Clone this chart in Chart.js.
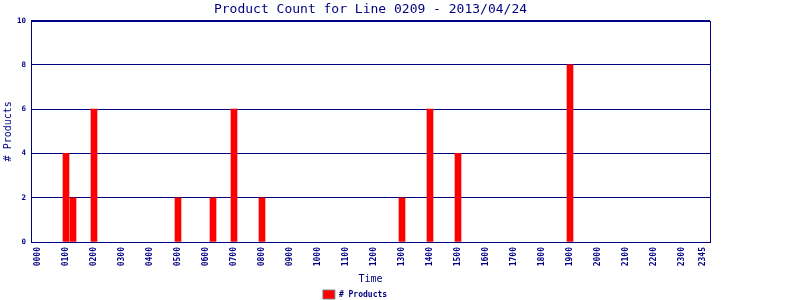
<!DOCTYPE html>
<html>
<head>
<meta charset="utf-8">
<script src="https://cdn.jsdelivr.net/npm/chart.js@4.4.1/dist/chart.umd.min.js"></script>
<style>
  html, body { margin: 0; padding: 0; background: #fff; }
  #wrap { width: 800px; height: 300px; }
</style>
</head>
<body>
<div id="wrap"><canvas id="myChart" width="800" height="300"></canvas></div>
<script>
// slots (HHMM) that had products, and the count in each
const times = ["0100", "0115", "0200", "0500", "0615", "0700", "0800", "1300", "1400", "1500", "1900"];
const counts = [4, 2, 6, 2, 2, 6, 2, 2, 6, 4, 8];

const tickLabels = ["0000", "0100", "0200", "0300", "0400", "0500", "0600", "0700", "0800", "0900",
  "1000", "1100", "1200", "1300", "1400", "1500", "1600", "1700", "1800", "1900",
  "2000", "2100", "2200", "2300", "2345"];

const NAVY = "#000080";
const MONO = "'DejaVu Sans Mono', 'Liberation Mono', monospace";

function toMinutes(hhmm) {
  return parseInt(hhmm.slice(0, 2), 10) * 60 + parseInt(hhmm.slice(2), 10);
}
function toLabel(mins) {
  let h = Math.floor(mins / 60), m = mins % 60;
  return String(h).padStart(2, "0") + String(m).padStart(2, "0");
}

const tickValues = tickLabels.map(toMinutes);

// frame round the plot area
const frame = {
  id: "frame",
  afterDraw(chart) {
    const a = chart.chartArea, ctx = chart.ctx;
    ctx.save();
    ctx.strokeStyle = NAVY;
    ctx.lineWidth = 1;
    ctx.strokeRect(Math.round(a.left) + 0.5, Math.round(a.top) + 0.5,
      Math.round(a.right - a.left), Math.round(a.bottom - a.top));
    ctx.restore();
  }
};

const ctx = document.getElementById("myChart").getContext("2d");
new Chart(ctx, {
  type: "bar",
  data: {
    datasets: [{
      label: "# Products",
      data: times.map((t, i) => ({ x: toMinutes(t), y: counts[i] })),
      backgroundColor: "#ff0000",
      borderWidth: 0,
      barThickness: 6
    }]
  },
  options: {
    responsive: false,
    animation: false,
    layout: { padding: { left: 0, right: 90, top: 0, bottom: -9 } },
    plugins: {
      title: {
        display: true,
        text: "Product Count for Line 0209 - 2013/04/24",
        color: NAVY,
        fullSize: false,
        font: { family: MONO, size: 13, weight: "normal" },
        padding: { top: 2, bottom: 3 }
      },
      legend: {
        position: "bottom",
        labels: {
          color: NAVY,
          boxWidth: 12,
          boxHeight: 9,
          padding: 3,
          font: { family: MONO, size: 8, weight: "bold" },
          generateLabels(chart) {
            return [{
              text: "# Products",
              fillStyle: "#ff0000",
              strokeStyle: "#808080",
              lineWidth: 1,
              fontColor: NAVY,
              datasetIndex: 0
            }];
          }
        }
      },
      tooltip: { enabled: false }
    },
    scales: {
      x: {
        type: "linear",
        min: -15,
        max: 1440,
        offset: false,
        grid: { display: false, drawTicks: false },
        border: { color: NAVY },
        afterBuildTicks(scale) {
          scale.ticks = tickValues.map(v => ({ value: v }));
        },
        afterFit(scale) { scale.height = 45; },
        ticks: {
          autoSkip: false,
          minRotation: 90,
          maxRotation: 90,
          padding: 5,
          color: NAVY,
          font: { family: MONO, size: 8, weight: "bold" },
          callback: (v) => toLabel(v)
        },
        title: {
          display: true,
          text: "Time",
          color: NAVY,
          font: { family: MONO, size: 10 },
          padding: { top: 0, bottom: 2 }
        }
      },
      y: {
        min: 0,
        max: 10,
        grid: { color: NAVY, drawTicks: false },
        border: { color: NAVY },
        afterFit(scale) { scale.width = 31; },
        ticks: {
          stepSize: 2,
          padding: 5,
          color: NAVY,
          font: { family: MONO, size: 7.5, weight: "bold" }
        },
        title: {
          display: true,
          text: "# Products",
          color: NAVY,
          font: { family: MONO, size: 10 },
          padding: { top: 2, bottom: 0 }
        }
      }
    }
  },
  plugins: [frame]
});
</script>
</body>
</html>
